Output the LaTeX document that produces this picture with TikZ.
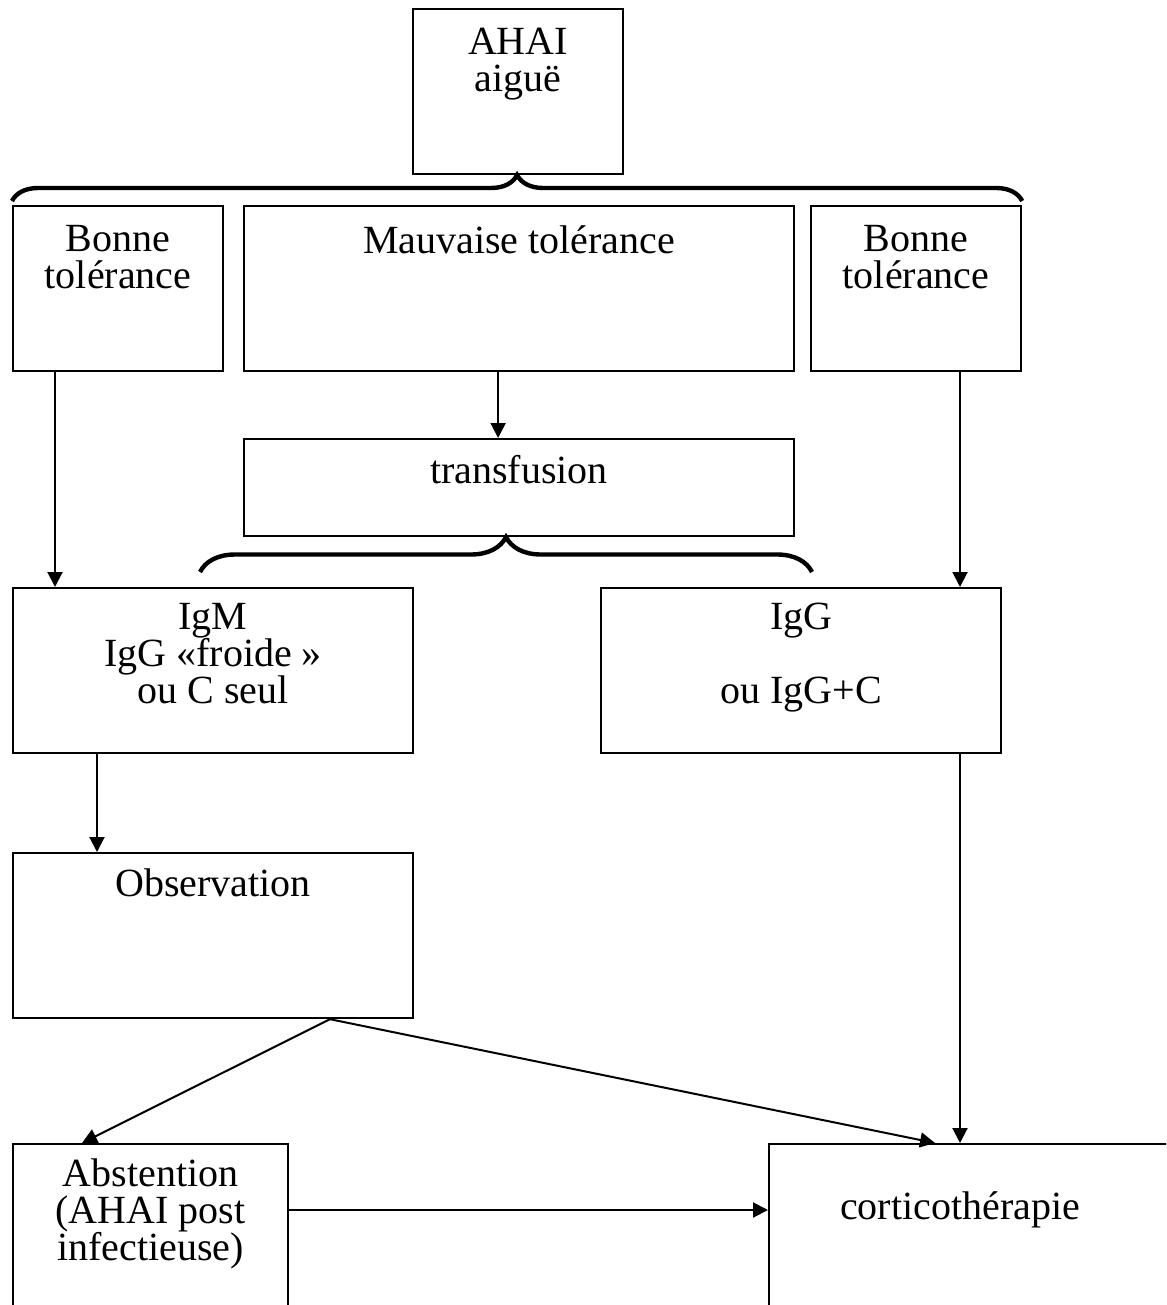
\documentclass[tikz,border=0pt]{standalone}
\usepackage{fontspec}
\setmainfont{Liberation Serif}
\usetikzlibrary{arrows.meta,decorations.pathreplacing}
\tikzset{
  box/.style={draw,line width=1.1pt,rectangle,inner sep=0pt,anchor=north west},
  txt/.style={anchor=north,inner sep=0pt,align=center,font=\fontsize{20}{18.5}\selectfont},
  curly/.style={decorate,decoration={brace,amplitude=#1},line width=2.2pt},
  arr/.style={->,line width=1pt}
}
\begin{document}
\begin{tikzpicture}[x=0.5pt,y=-0.5pt,>={Triangle[length=7.5pt,width=7.5pt]}]
    \useasboundingbox (0,0) rectangle (1166,1305);
    \clip (0,0) rectangle (1166,1305);
    % boxes
    \node[box,minimum width=105pt,minimum height=82.5pt] (ahai) at (412,8) {};
    \node[box,minimum width=105pt,minimum height=82.5pt] (bonneL) at (12,205) {};
    \node[box,minimum width=275pt,minimum height=82.5pt] (mauv) at (243,205) {};
    \node[box,minimum width=105pt,minimum height=82.5pt] (bonneR) at (810,205) {};
    \node[box,minimum width=275pt,minimum height=48.5pt] (transf) at (243,438) {};
    \node[box,minimum width=200pt,minimum height=82.5pt] (igm) at (12,587) {};
    \node[box,minimum width=200pt,minimum height=82.5pt] (igg) at (600,587) {};
    \node[box,minimum width=200pt,minimum height=82.5pt] (obs) at (12,852) {};
    \node[box,minimum width=137.5pt,minimum height=100pt] (abst) at (12,1143) {};
    \node[box,minimum width=225pt,minimum height=100pt] (cortico) at (768,1143) {};
    % texts
    \node[txt] (tahai) at ([yshift=-10pt]ahai.north) {AHAI\\aiguë};
    \node[txt] (tbonneL) at ([yshift=-10pt]bonneL.north) {Bonne\\tolérance};
    \node[txt] (tmauv) at ([yshift=-10pt]mauv.north) {Mauvaise tolérance};
    \node[txt] (tbonneR) at ([yshift=-10pt]bonneR.north) {Bonne\\tolérance};
    \node[txt] (ttransf) at ([yshift=-8.5pt]transf.north) {transfusion};
    \node[txt] (tigm) at ([yshift=-8pt]igm.north) {IgM\\IgG «froide »\\ou C seul};
    \node[txt] (tigg) at ([yshift=-8pt]igg.north) {IgG\\[18.5pt]ou IgG+C};
    \node[txt] (tobs) at ([yshift=-8pt]obs.north) {Observation};
    \node[txt] (tabst) at ([yshift=-7.5pt]abst.north) {Abstention\\(AHAI post\\infectieuse)};
    \node[txt,anchor=center] (tcortico) at (960,1210) {corticothérapie};
    % braces
    \draw[curly=13pt] ([yshift=2pt]bonneL.north west) -- ([yshift=2pt]bonneR.north east);
    \draw[curly=17.5pt] ([shift={(94pt,7.5pt)}]igm.north west) -- ([shift={(106pt,7.5pt)}]igg.north west);
    % arrows
    \draw[arr] ([xshift=21.5pt]bonneL.south west) -- ([xshift=21.5pt]igm.north west);
    \draw[arr] ([xshift=-10.5pt]mauv.south) -- ([xshift=-10.5pt]transf.north);
    \draw[arr] ([xshift=75pt]bonneR.south west) -- ([xshift=75pt]bonneR.south west |- igg.north);
    \draw[arr] ([xshift=42.5pt]igm.south west) -- ([xshift=42.5pt]obs.north west);
    \draw[arr] ([xshift=180pt]igg.south west) -- ([xshift=180pt]igg.south west |- cortico.north);
    \draw[arr] ([xshift=159pt]obs.south west) -- ([xshift=35pt]abst.north west);
    \draw[arr] ([xshift=159pt]obs.south west) -- ([xshift=83.5pt]cortico.north west);
    \draw[arr] ([yshift=-33.5pt]abst.north east) -- ([yshift=-33.5pt]abst.north east -| cortico.west);
\end{tikzpicture}
\end{document}
